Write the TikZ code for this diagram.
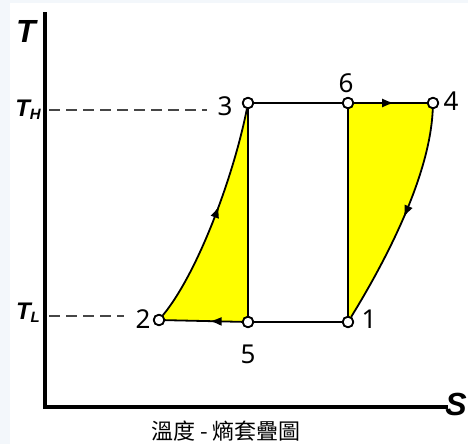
\documentclass[tikz,border=0pt]{standalone}
\usepackage{fontspec}
\setmainfont{Noto Sans}
\newfontfamily\axfont{Liberation Sans}
\newfontfamily\cjk{Noto Sans CJK TC}
\usetikzlibrary{arrows.meta,decorations.markings}
\definecolor{cyel}{RGB}{255,255,0}
\definecolor{bgc}{RGB}{243,247,251}
\definecolor{dgray}{RGB}{70,70,70}
\tikzset{
  pt/.style={circle,draw=black,fill=white,line width=1.7pt,inner sep=0pt,minimum size=10.5pt},
  lbl/.style={font=\fontsize{26}{26}\selectfont,inner sep=0pt},
  axl/.style={font=\axfont\bfseries\itshape\fontsize{32}{32}\selectfont,inner sep=0pt},
  tl/.style={font=\axfont\bfseries\itshape\fontsize{24}{24}\selectfont,inner sep=0pt},
  cyc/.style={line width=1.8pt,black},
  midarr/.style={postaction={decorate},decoration={markings,mark=at position #1 with {\arrow{Latex[length=12pt,width=9pt]}}}},
  guide/.style={dgray,line width=2.2pt,dash pattern=on 11pt off 6pt}
}
\begin{document}
\begin{tikzpicture}[x=1pt,y=-1pt]
\useasboundingbox (0,0) rectangle (468,444);
\fill[bgc] (0,0) rectangle (468,444);
\fill[white] (10,3) rectangle (468,444);
% points
\coordinate (c1) at (348,322);
\coordinate (c2) at (159,320);
\coordinate (c3) at (248,103);
\coordinate (c4) at (433,103);
\coordinate (c5) at (248,322);
\coordinate (c6) at (348,103);
% yellow fills
\fill[cyel] (c2) .. controls (200,270) and (235,170) .. (c3) -- (c5) -- cycle;
\fill[cyel] (c6) -- (c4) .. controls (430,180) and (380,270) .. (c1) -- cycle;
% axes
\coordinate (ytop) at (45,14);
\coordinate (org) at (45,407);
\coordinate (xend) at (446,407);
\draw[line width=4.2pt,line cap=rect] (ytop) -- (org) -- (xend);
\node[axl] (lT) at (26,31) {T};
\node[axl] (lS) at (456,404) {S};
\node[tl] (lTH) at (28,110) {T\raisebox{-3pt}{\fontsize{15}{15}\selectfont H}};
\node[tl] (lTL) at (28,313) {T\raisebox{-3pt}{\fontsize{15}{15}\selectfont L}};
% nodes
\node[pt] (p1) at (c1) {};
\node[pt] (p2) at (c2) {};
\node[pt] (p3) at (c3) {};
\node[pt] (p4) at (c4) {};
\node[pt] (p5) at (c5) {};
\node[pt] (p6) at (c6) {};
% guides
\coordinate (gH) at (49,110);
\coordinate (gHe) at (207,110);
\coordinate (gL) at (49,316);
\coordinate (gLe) at (124,316);
\draw[guide] (gH) -- (gHe);
\draw[guide] (gL) -- (gLe);
% cycle lines
\draw[cyc,midarr=0.55] (p2) .. controls (200,270) and (235,170) .. (p3);
\draw[cyc] (p3) -- (p6);
\draw[cyc,midarr=0.55] (p6) -- (p4);
\draw[cyc,midarr=0.5] (p4) .. controls (430,180) and (380,270) .. (p1);
\draw[cyc] (p1) -- (p6);
\draw[cyc] (p3) -- (p5);
\draw[cyc] (p1) -- (p5);
\draw[cyc,midarr=0.42] (p5) -- (p2);
% redraw points on top
\node[pt] at (c1) {};
\node[pt] at (c2) {};
\node[pt] at (c3) {};
\node[pt] at (c4) {};
\node[pt] at (c5) {};
\node[pt] at (c6) {};
% labels
\node[lbl] (n1) at (369,319) {1};
\node[lbl] (n2) at (143,319) {2};
\node[lbl] (n3) at (225,106) {3};
\node[lbl] (n4) at (451,101) {4};
\node[lbl] (n5) at (248,354) {5};
\node[lbl] (n6) at (346,83) {6};
\node[inner sep=0pt,font=\cjk\fontsize{22}{22}\selectfont] (cap) at (226,431) {溫度 - 熵套疊圖};
\end{tikzpicture}
\end{document}
